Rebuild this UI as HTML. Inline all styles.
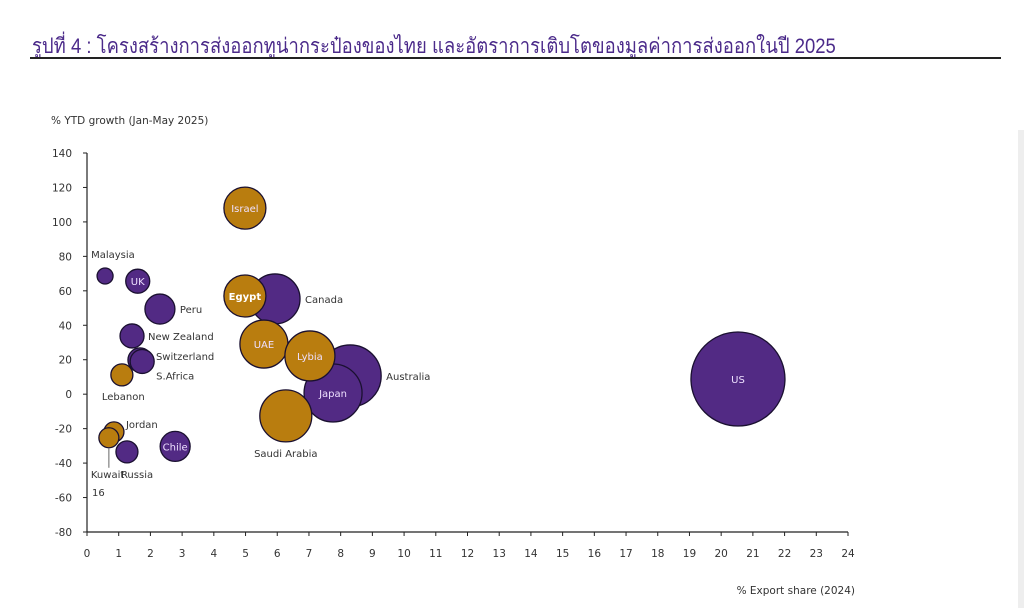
<!DOCTYPE html>
<html><head><meta charset="utf-8"><style>
body{margin:0;background:#fff;width:1024px;height:608px;overflow:hidden;font-family:"Liberation Sans","DejaVu Sans",sans-serif}
#title{position:absolute;left:32px;top:30px;font-family:"Liberation Sans Narrow","Liberation Sans","Noto Sans CJK SC",sans-serif;font-size:21px;color:#4b2a8a;transform:scaleX(0.88);transform-origin:left;white-space:nowrap}
#rule{position:absolute;left:30px;top:57px;width:971px;height:2px;background:#222}
#edge{position:absolute;left:1018px;top:130px;width:6px;height:478px;background:#eee}
</style></head><body>
<div id="title">รูปที่ 4 : โครงสร้างการส่งออกทูน่ากระป๋องของไทย และอัตราการเติบโตของมูลค่าการส่งออกในปี 2025</div>
<div id="rule"></div>
<div id="edge"></div>
<svg id="chart" width="1024" height="608" style="position:absolute;left:0;top:0"></svg>
<script>
const names=["Australia","Japan","Canada","US","Malaysia","UK","Peru","New Zealand","Switzerland","S.Africa","Russia","Chile","Lebanon","Jordan","Kuwait","Israel","Egypt","UAE","Lybia","Saudi Arabia"];
const share=[8.3,7.76,5.93,20.53,0.57,1.6,2.3,1.42,1.67,1.74,1.26,2.78,1.1,0.85,0.69,4.98,4.98,5.58,7.03,6.27];
const growth=[10.6,0.7,55.3,8.8,68.6,65.6,49.4,33.8,19.9,19.0,-33.5,-30.3,11.2,-21.9,-25.3,108,57,29.1,22.2,-12.6];
const size=[31,29,25,47,8,12,15,12,12,12,11,15,11,10,10,21,21,24,25,26];
const group=["p","p","p","p","p","p","p","p","p","p","p","p","o","o","o","o","o","o","o","o"];
const xTicks=[0,1,2,3,4,5,6,7,8,9,10,11,12,13,14,15,16,17,18,19,20,21,22,23,24];
const yTicks=[140,120,100,80,60,40,20,0,-20,-40,-60,-80];
const X0=87,X1=848,Y0=532,Y1=153;
const xs=v=>X0+(v-0)/(24-0)*(X1-X0);
const ys=v=>Y0-(v+80)/(220)*(Y0-Y1);
const NS="http://www.w3.org/2000/svg";
const svg=document.getElementById('chart');
function mk(t,a,p){const e=document.createElementNS(NS,t);for(const k in a)e.setAttribute(k,a[k]);(p||svg).appendChild(e);return e;}
function txt(x,y,s,anchor,fill,size,weight){const t=mk('text',{x:x,y:y,'text-anchor':anchor||'start',fill:fill||'#333','font-size':size||10,'font-weight':weight||'normal','font-family':'"DejaVu Sans","Liberation Sans",sans-serif'});t.textContent=s;return t;}
// axes
let ax=mk('line',{x1:X0,y1:Y1,x2:X0,y2:Y0,stroke:'#222','stroke-width':1.2});


let bx=mk('line',{x1:X0,y1:Y0,x2:X1,y2:Y0,stroke:'#222','stroke-width':1.2});


yTicks.forEach(v=>{const y=ys(v);mk('line',{x1:X0-4,y1:y,x2:X0,y2:y,stroke:'#222'});
 const t=txt(72,y+4,String(v),'end','#333',10.5);
 
 });
xTicks.forEach(v=>{const x=xs(v);mk('line',{x1:x,y1:Y0,x2:x,y2:Y0+4,stroke:'#222'});
 const t=txt(x,Y0+25,String(v),'middle','#333',10.5);
 
 });
let yt=txt(51,124,'% YTD growth (Jan-May 2025)','start','#333',10.5);


let xt=txt(855,594,'% Export share (2024)','end','#333',10.5);


// bubbles
names.forEach((n,i)=>{const c=mk('circle',{cx:xs(share[i]),cy:ys(growth[i]),r:size[i],fill:group[i]==='p'?'#522a84':'#b97d0f',stroke:'#1a1030','stroke-width':1.3});
 
 });
// labels: [index, dx, dy, anchor, inside]
const lbl=[[0,36,4,'start',0],[1,0,4,'middle',1],[2,30,4,'start',0],[3,0,4,'middle',1],[4,-14,-18,'start',0],[5,0,4,'middle',1],[6,20,4,'start',0],[7,16,4,'start',0],[8,16,0,'start',0],[9,14,18,'start',0],[10,-6,26,'start',0],[11,0,4,'middle',1],[12,-20,25,'start',0],[13,12,-4,'start',0],[14,-18,40,'start',0],[15,0,4,'middle',1],[16,0,4,'middle',1],[17,0,4,'middle',1],[18,0,4,'middle',1],[19,0,41,'middle',0]];
lbl.forEach(l=>{const i=l[0];const t=txt(xs(share[i])+l[1],ys(growth[i])+l[2],names[i],l[3],l[4]?(i===16?'#fff':'#eee0ff'):'#333',10,i===16?'bold':'normal');
 
 });
mk('line',{x1:xs(share[14]),y1:ys(growth[14])+10,x2:xs(share[14]),y2:ys(growth[14])+30,stroke:'#666'});
let s16=txt(92,496,'16','start','#333',10);


</script>
</body></html>
